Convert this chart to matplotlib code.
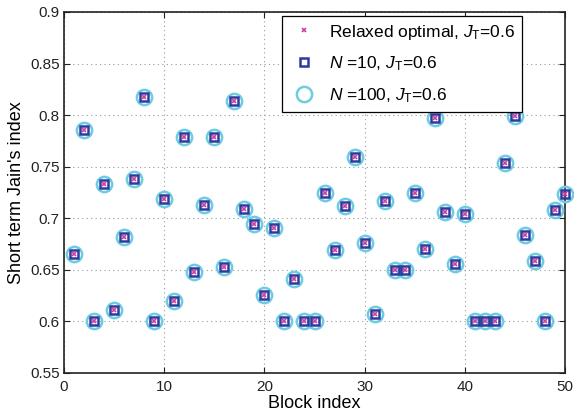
import matplotlib
matplotlib.use('Agg')
import matplotlib.pyplot as plt

plt.rcParams['font.family'] = ['Liberation Sans', 'DejaVu Sans']
plt.rcParams['mathtext.fontset'] = 'custom'
plt.rcParams['mathtext.it'] = 'Liberation Sans:italic'
plt.rcParams['mathtext.rm'] = 'Liberation Sans'

blocks = list(range(1, 51))
jain = [0.665, 0.786, 0.600, 0.733, 0.611, 0.682, 0.738, 0.818, 0.600, 0.719,
        0.620, 0.779, 0.648, 0.713, 0.779, 0.653, 0.814, 0.709, 0.694, 0.626,
        0.691, 0.600, 0.641, 0.600, 0.600, 0.725, 0.669, 0.712, 0.759, 0.676,
        0.607, 0.717, 0.650, 0.650, 0.725, 0.670, 0.797, 0.706, 0.656, 0.704,
        0.600, 0.600, 0.600, 0.754, 0.799, 0.684, 0.659, 0.600, 0.708, 0.724]

labels = [r'Relaxed optimal, $J_{\mathrm{T}}$=0.6',
          r'$N$ =10, $J_{\mathrm{T}}$=0.6',
          r'$N$ =100, $J_{\mathrm{T}}$=0.6']


def main():
    fig = plt.figure(figsize=(5.74, 4.17), dpi=100)
    ax = fig.add_axes([64 / 574, 1 - 373 / 417, 501 / 574, 361 / 417])

    ax.plot(blocks, jain, 'o', ms=11, mfc='none', mec='#6ccde0', mew=1.8,
            label=labels[2], zorder=3, clip_on=False)
    ax.plot(blocks, jain, 's', ms=6, mfc='none', mec='#2e3a9e', mew=1.8,
            label=labels[1], zorder=4, clip_on=False)
    ax.plot(blocks, jain, 'x', ms=3.5, color='#cc3d9e', mew=1.2,
            label=labels[0], zorder=5, clip_on=False)

    ax.set_xlim(0, 50)
    ax.set_ylim(0.55, 0.9)
    ax.set_xticks(range(0, 51, 10))
    ax.set_yticks([0.55, 0.6, 0.65, 0.7, 0.75, 0.8, 0.85, 0.9])
    ax.set_yticklabels(['0.55', '0.6', '0.65', '0.7', '0.75', '0.8', '0.85', '0.9'])
    ax.tick_params(direction='in', top=True, right=True, labelsize=11,
                   length=4, width=0.8, colors='#222222', pad=5)
    ax.tick_params(axis='y', pad=3)
    ax.grid(True, linestyle=(0, (1, 3)), color='#999999', linewidth=0.8)
    for s in ax.spines.values():
        s.set_linewidth(1.2)
        s.set_color('#222222')

    ax.set_xlabel('Block index', fontsize=13, labelpad=1)
    ax.set_ylabel("Short term Jain's index", fontsize=13, labelpad=4)

    h, l = ax.get_legend_handles_labels()
    leg = ax.legend(h[::-1], l[::-1], loc='upper right',
                    bbox_to_anchor=(0.914, 0.99), fontsize=12.5,
                    fancybox=False, edgecolor='black', framealpha=1,
                    borderaxespad=0, handletextpad=0.5, labelspacing=0.75,
                    borderpad=0.4, handlelength=1.8)
    leg.get_frame().set_linewidth(0.9)

    fig.savefig('out.png', dpi=100)


if __name__ == '__main__':
    main()
